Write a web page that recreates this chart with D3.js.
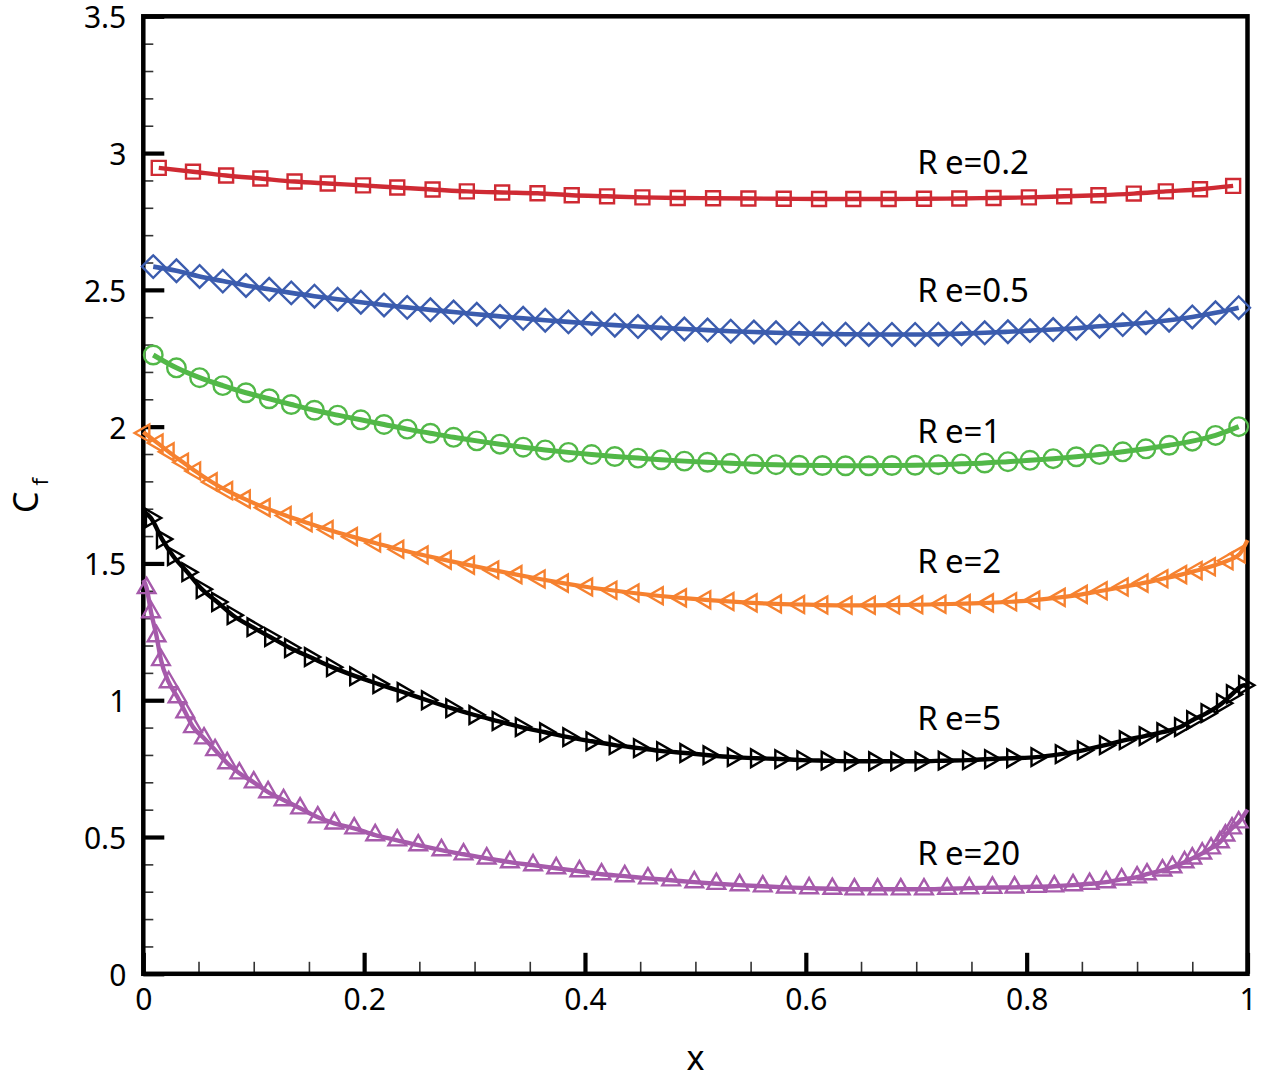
<!DOCTYPE html>
<html>
<head>
<meta charset="utf-8">
<script src="https://cdn.jsdelivr.net/npm/d3@7"></script>
<style>
  body { margin: 0; background: #fff; }
  svg text { font-family: "Noto Sans", "Open Sans", sans-serif; fill: #000; }
</style>
</head>
<body>
<div id="chart"></div>
<script>
// ---- data (x along the wall, skin friction Cf) ----
const xTicks = [0, 0.2, 0.4, 0.6, 0.8, 1];
const xMinor = [0.05, 0.1, 0.15, 0.25, 0.3, 0.35, 0.45, 0.5, 0.55, 0.65, 0.7, 0.75, 0.85, 0.9, 0.95];
const yTicks = [0, 0.5, 1, 1.5, 2, 2.5, 3, 3.5];
const yMinor = [0.1, 0.2, 0.3, 0.4, 0.6, 0.7, 0.8, 0.9, 1.1, 1.2, 1.3, 1.4, 1.6, 1.7, 1.8, 1.9,
                2.1, 2.2, 2.3, 2.4, 2.6, 2.7, 2.8, 2.9, 3.1, 3.2, 3.3, 3.4];

const seriesNames = ["Re=0.2", "Re=0.5", "Re=1", "Re=2", "Re=5", "Re=20"];

// Re = 0.2 (squares)
const re02X = [0.014, 0.045, 0.075, 0.106, 0.137, 0.167, 0.199, 0.230, 0.262, 0.293, 0.325, 0.357,
               0.388, 0.420, 0.452, 0.484, 0.516, 0.548, 0.580, 0.612, 0.643, 0.675, 0.707, 0.739,
               0.770, 0.802, 0.834, 0.865, 0.897, 0.926, 0.957, 0.987];
const re02Y = [2.946, 2.932, 2.918, 2.907, 2.896, 2.889, 2.882, 2.874, 2.867, 2.860, 2.856, 2.853,
               2.846, 2.842, 2.838, 2.836, 2.835, 2.834, 2.833, 2.832, 2.832, 2.832, 2.833, 2.834,
               2.836, 2.838, 2.842, 2.846, 2.852, 2.860, 2.868, 2.880];

// Re = 0.5 (diamonds)
const re05X = [0.009, 0.030, 0.051, 0.072, 0.093, 0.114, 0.134, 0.155, 0.176, 0.197, 0.218, 0.239,
               0.260, 0.281, 0.302, 0.323, 0.344, 0.364, 0.385, 0.406, 0.427, 0.448, 0.469, 0.490,
               0.511, 0.532, 0.553, 0.573, 0.594, 0.615, 0.636, 0.657, 0.678, 0.699, 0.720, 0.741,
               0.762, 0.783, 0.803, 0.824, 0.845, 0.866, 0.887, 0.908, 0.929, 0.950, 0.971, 0.992];
const re05Y = [2.585, 2.570, 2.549, 2.532, 2.516, 2.502, 2.489, 2.477, 2.466, 2.455, 2.445, 2.436,
               2.427, 2.419, 2.411, 2.403, 2.396, 2.389, 2.383, 2.377, 2.371, 2.366, 2.361, 2.357,
               2.353, 2.349, 2.346, 2.343, 2.341, 2.339, 2.338, 2.337, 2.337, 2.337, 2.338, 2.340,
               2.343, 2.347, 2.351, 2.355, 2.360, 2.367, 2.373, 2.380, 2.389, 2.401, 2.416, 2.435];

// Re = 1 (circles)
const re1X = [0.009, 0.030, 0.051, 0.072, 0.093, 0.114, 0.134, 0.155, 0.176, 0.197, 0.218, 0.239,
              0.260, 0.281, 0.302, 0.323, 0.344, 0.364, 0.385, 0.406, 0.427, 0.448, 0.469, 0.490,
              0.511, 0.532, 0.553, 0.573, 0.594, 0.615, 0.636, 0.657, 0.678, 0.699, 0.720, 0.741,
              0.762, 0.783, 0.803, 0.824, 0.845, 0.866, 0.887, 0.908, 0.929, 0.950, 0.971, 0.992];
const re1Y = [2.262, 2.215, 2.179, 2.150, 2.124, 2.102, 2.081, 2.060, 2.042, 2.025, 2.008, 1.991,
              1.976, 1.961, 1.948, 1.936, 1.925, 1.915, 1.906, 1.898, 1.891, 1.885, 1.879, 1.874,
              1.870, 1.866, 1.863, 1.861, 1.859, 1.858, 1.857, 1.857, 1.858, 1.859, 1.861, 1.864,
              1.867, 1.872, 1.877, 1.883, 1.890, 1.898, 1.908, 1.919, 1.932, 1.947, 1.968, 2.000];

// Re = 2 (left triangles)
const re2X = [0.001, 0.013, 0.023, 0.036, 0.047, 0.062, 0.076, 0.092, 0.110, 0.129, 0.148, 0.167,
              0.189, 0.210, 0.231, 0.253, 0.274, 0.295, 0.317, 0.338, 0.359, 0.380, 0.402, 0.424,
              0.444, 0.466, 0.487, 0.509, 0.530, 0.551, 0.573, 0.594, 0.615, 0.637, 0.658, 0.680,
              0.701, 0.722, 0.744, 0.765, 0.786, 0.807, 0.830, 0.850, 0.868, 0.887, 0.905, 0.923,
              0.940, 0.954, 0.966, 0.982, 0.993];
const re2Y = [1.977, 1.940, 1.908, 1.870, 1.838, 1.798, 1.766, 1.735, 1.704, 1.675, 1.649, 1.624,
              1.598, 1.575, 1.552, 1.531, 1.512, 1.494, 1.476, 1.459, 1.443, 1.428, 1.414, 1.402,
              1.392, 1.382, 1.374, 1.367, 1.361, 1.356, 1.352, 1.350, 1.348, 1.347, 1.347, 1.348,
              1.349, 1.351, 1.353, 1.356, 1.360, 1.366, 1.376, 1.387, 1.400, 1.414, 1.428, 1.444,
              1.459, 1.474, 1.488, 1.510, 1.535];

// Re = 5 (right triangles)
const re5X = [0.007, 0.017, 0.027, 0.040, 0.053, 0.067, 0.081, 0.099, 0.115, 0.133, 0.151, 0.171,
              0.192, 0.213, 0.235, 0.257, 0.279, 0.300, 0.321, 0.342, 0.364, 0.385, 0.406, 0.427,
              0.449, 0.470, 0.491, 0.512, 0.534, 0.555, 0.577, 0.597, 0.619, 0.640, 0.662, 0.682,
              0.704, 0.725, 0.747, 0.767, 0.787, 0.809, 0.831, 0.851, 0.871, 0.889, 0.907, 0.923,
              0.939, 0.950, 0.963, 0.977, 0.986, 0.997];
const re5Y = [1.666, 1.589, 1.527, 1.468, 1.406, 1.359, 1.311, 1.267, 1.231, 1.191, 1.158, 1.121,
              1.088, 1.059, 1.030, 1.000, 0.971, 0.946, 0.924, 0.902, 0.883, 0.865, 0.850, 0.836,
              0.825, 0.814, 0.807, 0.799, 0.792, 0.788, 0.785, 0.781, 0.779, 0.777, 0.777, 0.777,
              0.777, 0.779, 0.781, 0.785, 0.788, 0.792, 0.803, 0.817, 0.836, 0.854, 0.869, 0.883,
              0.902, 0.927, 0.953, 0.989, 1.022, 1.055];

// Re = 20 (up triangles)
const re20X = [0.003, 0.007, 0.012, 0.016, 0.023, 0.031, 0.038, 0.045, 0.055, 0.065, 0.076, 0.087,
               0.100, 0.113, 0.127, 0.142, 0.158, 0.173, 0.191, 0.210, 0.230, 0.249, 0.270, 0.290,
               0.311, 0.332, 0.353, 0.374, 0.395, 0.415, 0.436, 0.457, 0.478, 0.499, 0.519, 0.540,
               0.561, 0.582, 0.603, 0.624, 0.644, 0.665, 0.686, 0.707, 0.728, 0.748, 0.769, 0.789,
               0.809, 0.825, 0.842, 0.857, 0.872, 0.886, 0.900, 0.909, 0.923, 0.932, 0.943, 0.950,
               0.959, 0.967, 0.975, 0.980, 0.986, 0.992];
const re20Y = [1.410, 1.322, 1.234, 1.147, 1.066, 1.011, 0.956, 0.902, 0.861, 0.818, 0.770, 0.733,
               0.700, 0.664, 0.635, 0.605, 0.572, 0.550, 0.532, 0.507, 0.488, 0.470, 0.452, 0.437,
               0.422, 0.408, 0.397, 0.386, 0.375, 0.364, 0.357, 0.349, 0.342, 0.335, 0.329, 0.324,
               0.320, 0.316, 0.313, 0.311, 0.309, 0.309, 0.309, 0.309, 0.311, 0.313, 0.315, 0.316,
               0.318, 0.320, 0.324, 0.329, 0.335, 0.345, 0.353, 0.364, 0.378, 0.390, 0.408, 0.422,
               0.440, 0.459, 0.481, 0.506, 0.532, 0.554];

// line-only end points where the solid curve runs past the symbols
const re2LineEnds = [[0, 1.98], [1, 1.585]];
const re5LineEnds = [[0, 1.69], [1, 1.045]];
const re20LineEnds = [[0, 1.44], [1, 0.60]];

// ---- layout / style ----
const width = 1276, height = 1082;
const plot = {left: 143.3, right: 1247.5, top: 16.3, bottom: 973.8};
const labelAt = [[0.701, 2.923], [0.701, 2.455], [0.701, 1.939], [0.701, 1.464], [0.701, 0.891], [0.701, 0.398]];

const series = [
    {xs: re02X, ys: re02Y, ends: null, color: "#cf2a33", lw: 4.4, sym: d3.symbolSquare, size: 195, rot: 0},
    {xs: re05X, ys: re05Y, ends: null, color: "#3b5cae", lw: 4.6, sym: d3.symbolSquare, size: 255, rot: 45},
    {xs: re1X, ys: re1Y, ends: null, color: "#52b848", lw: 5, sym: d3.symbolCircle, size: 270, rot: 0},
    {xs: re2X, ys: re2Y, ends: re2LineEnds, color: "#f6812f", lw: 4.2, sym: d3.symbolTriangle, size: 125, rot: -90},
    {xs: re5X, ys: re5Y, ends: re5LineEnds, color: "#000000", lw: 4.4, sym: d3.symbolTriangle, size: 135, rot: 90},
    {xs: re20X, ys: re20Y, ends: re20LineEnds, color: "#a65aab", lw: 4.4, sym: d3.symbolTriangle, size: 135, rot: 0}
];

const svg = d3.select("#chart").append("svg")
    .attr("width", width)
    .attr("height", height);

svg.append("rect").attr("width", width).attr("height", height).attr("fill", "#fff");

const x = d3.scaleLinear().domain([0, 1]).range([plot.left, plot.right]);
const y = d3.scaleLinear().domain([0, 3.5]).range([plot.bottom, plot.top]);

// minor ticks (inside the frame, no labels)
svg.append("g")
    .attr("transform", "translate(" + plot.left + ",0)")
    .call(d3.axisLeft(y).tickValues(yMinor).tickSize(-10).tickFormat(""))
    .call(g => g.select(".domain").remove())
    .call(g => g.selectAll("line").attr("stroke", "#333").attr("stroke-width", 1.6));

svg.append("g")
    .attr("transform", "translate(0," + plot.bottom + ")")
    .call(d3.axisBottom(x).tickValues(xMinor).tickSize(-12).tickFormat(""))
    .call(g => g.select(".domain").remove())
    .call(g => g.selectAll("line").attr("stroke", "#333").attr("stroke-width", 1.6));

// major ticks with labels
svg.append("g")
    .attr("transform", "translate(" + plot.left + ",0)")
    .call(d3.axisLeft(y).tickValues(yTicks).tickSize(-21).tickPadding(17).tickFormat(d3.format("~g")))
    .call(g => g.select(".domain").remove())
    .call(g => g.selectAll("line").attr("stroke", "#000").attr("stroke-width", 4.2))
    .call(g => g.selectAll("text").attr("font-size", 30).attr("font-family", null).attr("dy", "0.38em"));

svg.append("g")
    .attr("transform", "translate(0," + plot.bottom + ")")
    .call(d3.axisBottom(x).tickValues(xTicks).tickSize(-21).tickPadding(15).tickFormat(d3.format("~g")))
    .call(g => g.select(".domain").remove())
    .call(g => g.selectAll("line").attr("stroke", "#000").attr("stroke-width", 4.2))
    .call(g => g.selectAll("text").attr("font-size", 30).attr("font-family", null));

// frame
svg.append("rect")
    .attr("x", plot.left).attr("y", plot.top)
    .attr("width", plot.right - plot.left)
    .attr("height", plot.bottom - plot.top)
    .attr("fill", "none")
    .attr("stroke", "#000")
    .attr("stroke-width", 4.5);

// axis titles
svg.append("text")
    .attr("x", (plot.left + plot.right) / 2)
    .attr("y", 1070)
    .attr("text-anchor", "middle")
    .attr("font-size", 34)
    .text("x");

const yTitle = svg.append("text")
    .attr("transform", "translate(38,513) rotate(-90)")
    .attr("font-size", 34)
    .text("C");
yTitle.append("tspan").attr("dx", 6).attr("dy", 10).attr("font-size", 22).text("f");

// curves + symbols
const line = d3.line()
    .x(d => x(d[0]))
    .y(d => y(d[1]))
    .curve(d3.curveMonotoneX);

series.forEach((s, i) => {
    let pts = s.xs.map((v, k) => [v, s.ys[k]]);
    let linePts = s.ends ? [s.ends[0]].concat(pts, [s.ends[1]]) : pts;

    let g = svg.append("g").attr("class", "series");

    g.append("path")
        .datum(linePts)
        .attr("d", line)
        .attr("fill", "none")
        .attr("stroke", s.color)
        .attr("stroke-width", s.lw)
        .attr("stroke-linejoin", "round");

    g.selectAll("path.sym")
        .data(pts)
        .enter()
        .append("path")
        .attr("class", "sym")
        .attr("d", d3.symbol().type(s.sym).size(s.size))
        .attr("transform", d => "translate(" + x(d[0]) + "," + y(d[1]) + ") rotate(" + s.rot + ")")
        .attr("fill", "none")
        .attr("stroke", s.color)
        .attr("stroke-width", 2.4);

    // "R e=..." label, Tecplot style spacing after the R
    let name = seriesNames[i];
    let t = svg.append("text")
        .attr("x", x(labelAt[i][0]))
        .attr("y", y(labelAt[i][1]))
        .attr("font-size", 33);
    t.append("tspan").text(name.slice(0, 1));
    t.append("tspan").attr("dx", 7).text(name.slice(1));
});
</script>
</body>
</html>
